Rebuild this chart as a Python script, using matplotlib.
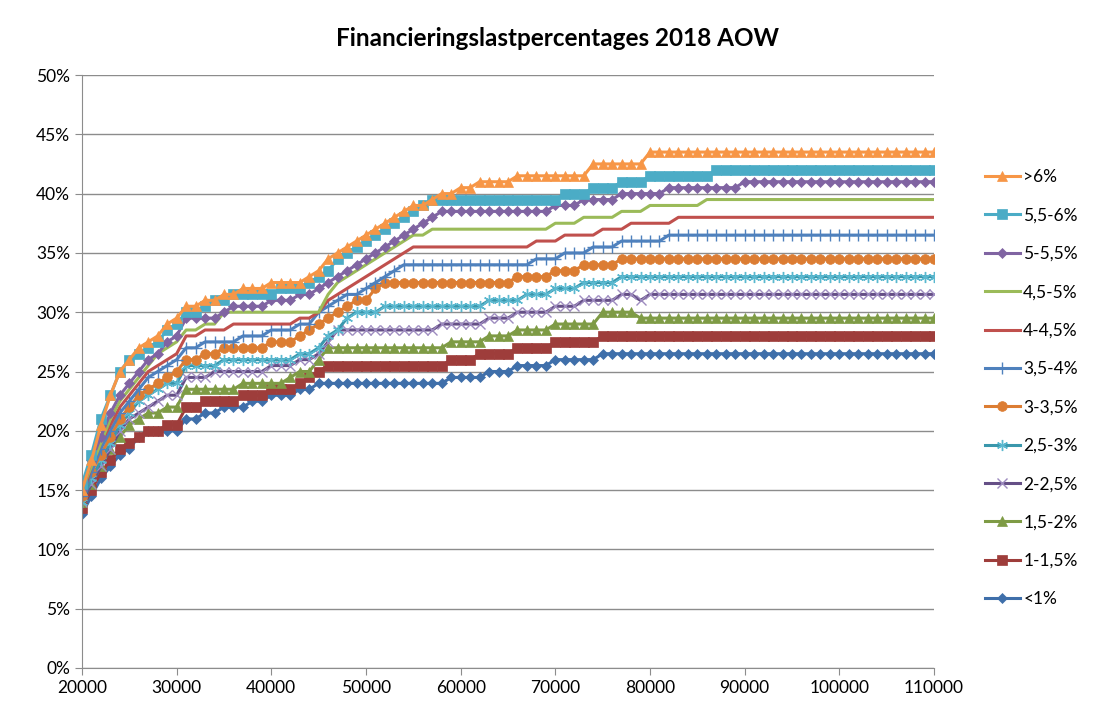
import numpy as np
import matplotlib
matplotlib.use('Agg')
import matplotlib.pyplot as plt
from matplotlib.ticker import FuncFormatter

plt.rcParams['font.family'] = ['Lato', 'DejaVu Sans']

## Income grid (20000 .. 110000, one point per 1000)
income = np.arange(20000, 110001, 1000)

## Financieringslast (%) per interest bucket
lt1 = [13, 14.5, 16, 17, 18, 18.5, 19.5, 20, 20, 20, 20,
       21, 21, 21.5, 21.5, 22, 22, 22, 22.5, 22.5, 23, 23, 23, 23.5, 23.5,
       24, 24, 24, 24, 24, 24, 24, 24, 24, 24, 24, 24, 24, 24,
       24.5, 24.5, 24.5, 24.5, 25, 25, 25, 25.5, 25.5, 25.5, 25.5,
       26, 26, 26, 26, 26,
       26.5, 26.5, 26.5, 26.5, 26.5, 26.5, 26.5, 26.5, 26.5, 26.5, 26.5, 26.5,
       26.5, 26.5, 26.5, 26.5, 26.5, 26.5, 26.5, 26.5, 26.5, 26.5, 26.5, 26.5,
       26.5, 26.5, 26.5, 26.5, 26.5, 26.5, 26.5, 26.5, 26.5, 26.5, 26.5, 26.5]

r1 = [13.5, 15, 16.5, 17.5, 18.5, 19, 19.5, 20, 20, 20.5, 20.5,
      22, 22, 22.5, 22.5, 22.5, 22.5, 23, 23, 23, 23.5, 23.5, 23.5, 24, 24.5, 25,
      25.5, 25.5, 25.5, 25.5, 25.5, 25.5, 25.5, 25.5, 25.5, 25.5, 25.5, 25.5, 25.5,
      26, 26, 26, 26.5, 26.5, 26.5, 26.5, 27, 27, 27, 27,
      27.5, 27.5, 27.5, 27.5, 27.5,
      28, 28, 28, 28, 28, 28, 28, 28, 28, 28, 28, 28,
      28, 28, 28, 28, 28, 28, 28, 28, 28, 28, 28, 28,
      28, 28, 28, 28, 28, 28, 28, 28, 28, 28, 28, 28]

g1 = [14, 15.5, 17, 18.5, 19.5, 20.5, 21, 21.5, 21.5, 22, 22,
      23.5, 23.5, 23.5, 23.5, 23.5, 23.5, 24, 24, 24, 24, 24, 24.5, 25, 25, 26,
      27, 27, 27, 27, 27, 27, 27, 27, 27, 27, 27, 27, 27,
      27.5, 27.5, 27.5, 27.5, 28, 28, 28, 28.5, 28.5, 28.5, 28.5,
      29, 29, 29, 29, 29, 30, 30, 30, 30,
      29.5, 29.5, 29.5, 29.5, 29.5, 29.5, 29.5, 29.5, 29.5, 29.5, 29.5,
      29.5, 29.5, 29.5, 29.5, 29.5, 29.5, 29.5, 29.5, 29.5, 29.5, 29.5,
      29.5, 29.5, 29.5, 29.5, 29.5, 29.5, 29.5, 29.5, 29.5, 29.5]

p2 = [14, 15.5, 17, 18.5, 20, 21, 21.5, 22, 22.5, 23, 23,
      24.5, 24.5, 24.5, 25, 25, 25, 25, 25, 25, 25.5, 25.5, 25.5, 26, 26, 26.5, 27.5,
      28.5, 28.5, 28.5, 28.5, 28.5, 28.5, 28.5, 28.5, 28.5, 28.5, 28.5,
      29, 29, 29, 29, 29, 29.5, 29.5, 29.5, 30, 30, 30, 30,
      30.5, 30.5, 30.5, 31, 31, 31, 31, 31.5, 31.5, 31,
      31.5, 31.5, 31.5, 31.5, 31.5, 31.5, 31.5, 31.5, 31.5, 31.5, 31.5,
      31.5, 31.5, 31.5, 31.5, 31.5, 31.5, 31.5, 31.5, 31.5, 31.5,
      31.5, 31.5, 31.5, 31.5, 31.5, 31.5, 31.5, 31.5, 31.5, 31.5]

t2 = [14, 16, 17.5, 19, 20.5, 21.5, 22.5, 23, 23.5, 24, 24,
      25.5, 25.5, 25.5, 25.5, 26, 26, 26, 26, 26, 26, 26, 26, 26.5, 26.5,
      27, 28, 28.5, 29.5, 30, 30, 30,
      30.5, 30.5, 30.5, 30.5, 30.5, 30.5, 30.5, 30.5, 30.5, 30.5, 30.5,
      31, 31, 31, 31, 31.5, 31.5, 31.5, 32, 32, 32, 32.5, 32.5, 32.5, 32.5,
      33, 33, 33, 33, 33, 33, 33, 33, 33, 33, 33, 33,
      33, 33, 33, 33, 33, 33, 33, 33, 33, 33, 33,
      33, 33, 33, 33, 33, 33, 33, 33, 33, 33, 33]

o3 = [14.5, 16.5, 18, 19.5, 21, 22, 23, 23.5, 24, 24.5, 25,
      26, 26, 26.5, 26.5, 27, 27, 27, 27, 27, 27.5, 27.5, 27.5, 28, 28.5,
      29, 29.5, 30, 30.5, 31, 31, 32,
      32.5, 32.5, 32.5, 32.5, 32.5, 32.5, 32.5, 32.5, 32.5, 32.5, 32.5, 32.5, 32.5, 32.5,
      33, 33, 33, 33, 33.5, 33.5, 33.5, 34, 34, 34, 34,
      34.5, 34.5, 34.5, 34.5, 34.5, 34.5, 34.5, 34.5, 34.5, 34.5, 34.5, 34.5,
      34.5, 34.5, 34.5, 34.5, 34.5, 34.5, 34.5, 34.5, 34.5, 34.5, 34.5,
      34.5, 34.5, 34.5, 34.5, 34.5, 34.5, 34.5, 34.5, 34.5, 34.5, 34.5]

b3 = [14.5, 16.5, 18.5, 20, 21.5, 22.5, 23.5, 24.5, 25, 25.5, 26,
      27, 27, 27.5, 27.5, 27.5, 27.5, 28, 28, 28, 28.5, 28.5, 28.5, 29, 29,
      30, 30.5, 31, 31.5, 31.5, 32, 32.5, 33, 33.5,
      34, 34, 34, 34, 34, 34, 34, 34, 34, 34, 34, 34, 34, 34,
      34.5, 34.5, 34.5, 35, 35, 35, 35.5, 35.5, 35.5, 36, 36, 36, 36, 36,
      36.5, 36.5, 36.5, 36.5, 36.5, 36.5, 36.5, 36.5, 36.5, 36.5,
      36.5, 36.5, 36.5, 36.5, 36.5, 36.5, 36.5, 36.5, 36.5, 36.5,
      36.5, 36.5, 36.5, 36.5, 36.5, 36.5, 36.5, 36.5, 36.5]

r4 = [14.5, 17, 19, 20.5, 22, 23, 24, 25, 25.5, 26, 26.5,
      28, 28, 28.5, 28.5, 28.5, 29, 29, 29, 29, 29, 29, 29, 29.5, 29.5,
      30, 31, 31.5, 32, 32.5, 33, 33.5, 34, 34.5, 35,
      35.5, 35.5, 35.5, 35.5, 35.5, 35.5, 35.5, 35.5, 35.5, 35.5, 35.5, 35.5, 35.5,
      36, 36, 36, 36.5, 36.5, 36.5, 36.5, 37, 37, 37, 37.5, 37.5, 37.5, 37.5, 37.5,
      38, 38, 38, 38, 38, 38, 38, 38, 38, 38, 38, 38, 38, 38,
      38, 38, 38, 38, 38, 38, 38, 38, 38, 38, 38, 38, 38, 38]

g4 = [15, 17, 19, 21, 22.5, 23.5, 24.5, 25.5, 26.5, 27, 27.5,
      28.5, 28.5, 29, 29, 30, 30, 30, 30, 30, 30, 30, 30, 30, 30, 30,
      31.5, 32.5, 33, 33.5, 34, 34.5, 35, 35.5, 36, 36.5, 36.5,
      37, 37, 37, 37, 37, 37, 37, 37, 37, 37, 37, 37, 37,
      37.5, 37.5, 37.5, 38, 38, 38, 38, 38.5, 38.5, 38.5, 39, 39, 39, 39, 39, 39,
      39.5, 39.5, 39.5, 39.5, 39.5, 39.5, 39.5, 39.5, 39.5, 39.5, 39.5, 39.5, 39.5,
      39.5, 39.5, 39.5, 39.5, 39.5, 39.5, 39.5, 39.5, 39.5, 39.5, 39.5, 39.5]

p5 = [15, 17.5, 19.5, 21.5, 23, 24, 25, 26, 26.5, 27.5, 28,
      29.5, 29.5, 29.5, 29.5, 30, 30.5, 30.5, 30.5, 30.5, 31, 31, 31, 31.5, 31.5,
      32, 32.5, 33, 33.5, 34, 34.5, 35, 35.5, 36, 36.5, 37, 37.5, 38,
      38.5, 38.5, 38.5, 38.5, 38.5, 38.5, 38.5, 38.5, 38.5, 38.5, 38.5, 38.5,
      39, 39, 39, 39.5, 39.5, 39.5, 39.5, 40, 40, 40, 40, 40,
      40.5, 40.5, 40.5, 40.5, 40.5, 40.5, 40.5, 40.5,
      41, 41, 41, 41, 41, 41, 41, 41, 41, 41, 41,
      41, 41, 41, 41, 41, 41, 41, 41, 41, 41]

c6 = [15.5, 18, 21, 23, 25, 26, 26.5, 27, 27.5, 28.5, 29,
      30, 30, 30.5, 31, 31, 31.5, 31.5, 31.5, 31.5, 31.5, 32, 32, 32, 32.5,
      33, 33.5, 34.5, 35, 35.5, 36, 36.5, 37, 37.5, 38, 38.5, 39,
      39.5, 39.5, 39.5, 39.5, 39.5, 39.5, 39.5, 39.5, 39.5, 39.5, 39.5, 39.5, 39.5, 39.5,
      40, 40, 40, 40.5, 40.5, 40.5, 41, 41, 41,
      41.5, 41.5, 41.5, 41.5, 41.5, 41.5, 41.5,
      42, 42, 42, 42, 42, 42, 42, 42, 42, 42, 42, 42,
      42, 42, 42, 42, 42, 42, 42, 42, 42, 42, 42, 42]

o6 = [15, 17.5, 20.5, 23, 25, 26, 27, 27.5, 28, 29, 29.5,
      30.5, 30.5, 31, 31, 31.5, 31.5, 32, 32, 32, 32.5, 32.5, 32.5, 32.5, 33,
      33.5, 34.5, 35, 35.5, 36, 36.5, 37, 37.5, 38, 38.5, 39, 39, 39.5, 40, 40, 40.5, 40.5,
      41, 41, 41, 41, 41.5, 41.5, 41.5, 41.5, 41.5, 41.5, 41.5, 41.5,
      42.5, 42.5, 42.5, 42.5, 42.5, 42.5,
      43.5, 43.5, 43.5, 43.5, 43.5, 43.5, 43.5, 43.5, 43.5, 43.5, 43.5,
      43.5, 43.5, 43.5, 43.5, 43.5, 43.5, 43.5, 43.5, 43.5, 43.5,
      43.5, 43.5, 43.5, 43.5, 43.5, 43.5, 43.5, 43.5, 43.5, 43.5]

labels = ['<1%', '1-1,5%', '1,5-2%', '2-2,5%', '2,5-3%', '3-3,5%',
          '3,5-4%', '4-4,5%', '4,5-5%', '5-5,5%', '5,5-6%', '>6%']
series = [lt1, r1, g1, p2, t2, o3, b3, r4, g4, p5, c6, o6]

## Excel-like styling: (line colour, marker, marker size, marker edge colour)
asterisk = (6, 2, 0)
styles = [('#3F6FAA', 'D', 5.5, '#3F6FAA'),
          ('#9E3D3B', 's', 7, '#9E3D3B'),
          ('#7E9B45', '^', 7, '#7E9B45'),
          ('#654F86', 'x', 7, '#9D8BBF'),
          ('#3A97AC', asterisk, 8, '#5AB8CF'),
          ('#DC7D33', 'o', 7, '#DC7D33'),
          ('#4F81BD', '+', 9, '#4F81BD'),
          ('#C0504D', None, 0, '#C0504D'),
          ('#9BBB59', None, 0, '#9BBB59'),
          ('#8064A2', 'D', 5.5, '#8064A2'),
          ('#4BACC6', 's', 7, '#4BACC6'),
          ('#F79646', '^', 7, '#F79646')]

fig = plt.figure(figsize=(10.97, 7.15), dpi=100)
ax = fig.add_axes([82 / 1097, 1 - 668 / 715, (934 - 82) / 1097, (668 - 75) / 715])

handles = []
for vals, lab, (col, mk, ms, mec) in zip(series, labels, styles):
    assert len(vals) == len(income), lab
    thin = mk in ('x', '+', asterisk)
    h, = ax.plot(income, vals, color=col, lw=2.2, marker=mk, markersize=ms,
                 markerfacecolor=mec, markeredgecolor=mec,
                 markeredgewidth=1.0 if thin else 0.5, label=lab)
    handles.append(h)

## Axes
ax.set_xlim(20000, 110000)
ax.set_ylim(0, 50)
ax.set_xticks(np.arange(20000, 110001, 10000))
ax.set_yticks(np.arange(0, 51, 5))
ax.yaxis.set_major_formatter(FuncFormatter(lambda v, p: '%d%%' % v))
ax.grid(axis='y', color='#8C8C8C', lw=1)
ax.set_axisbelow(True)
for s in ['top', 'right']:
    ax.spines[s].set_visible(False)
for s in ['left', 'bottom']:
    ax.spines[s].set_color('#8C8C8C')
ax.tick_params(axis='both', colors='#8C8C8C', labelcolor='black', labelsize=12.5,
               length=5, direction='out')

## Title & legend
fig.text(0.508, 1 - 38 / 715, 'Financieringslastpercentages 2018 AOW',
         ha='center', va='center', fontsize=17.5, fontweight='bold')

fig.legend(handles[::-1], labels[::-1], loc='upper left',
           bbox_to_anchor=(985 / 1097, 1 - 169 / 715), frameon=False,
           fontsize=12.5, handlelength=2.0, handletextpad=0.2,
           labelspacing=1.29, borderpad=0, borderaxespad=0, numpoints=1)

fig.savefig('out.png', dpi=100)
